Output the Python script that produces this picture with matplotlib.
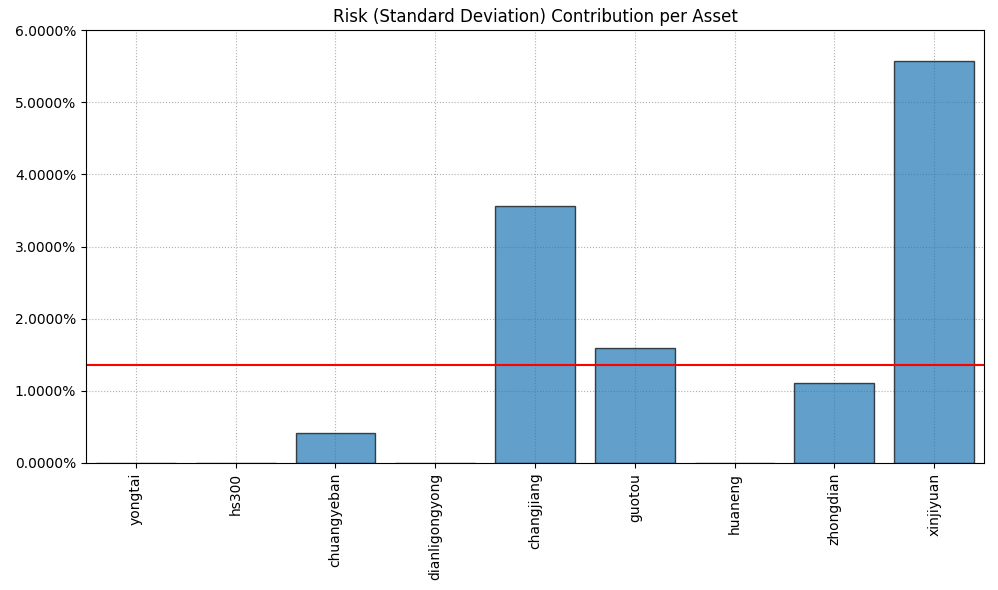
import matplotlib
matplotlib.use("Agg")
import matplotlib.pyplot as plt
from matplotlib.ticker import FuncFormatter

assets = ['yongtai', 'hs300', 'chuangyeban', 'dianligongyong', 'changjiang',
          'guotou', 'huaneng', 'zhongdian', 'xinjiyuan']
risk_contrib = [0.00002, 0.00001, 0.00416, 0.00001, 0.03561,
                0.01593, 0.00001, 0.01108, 0.05570]
mean_contrib = sum(risk_contrib) / len(risk_contrib)

fig, ax = plt.subplots(figsize=(9.98, 5.9), dpi=100)
ax.bar(assets, risk_contrib, alpha=0.7, edgecolor='black')
ax.axhline(mean_contrib, color='red')
ax.set_ylim(0, 0.06)
ax.set_xlim(-0.5, len(assets) - 0.5)
ax.yaxis.set_major_formatter(FuncFormatter(lambda v, p: '{:.4%}'.format(v)))
ax.set_title('Risk (Standard Deviation) Contribution per Asset')
ax.grid(True, linestyle=':')
ax.set_axisbelow(True)
plt.xticks(rotation=90)
fig.subplots_adjust(left=86 / 998, right=984 / 998, top=1 - 30 / 590, bottom=1 - 463 / 590)
plt.savefig('out.png')
